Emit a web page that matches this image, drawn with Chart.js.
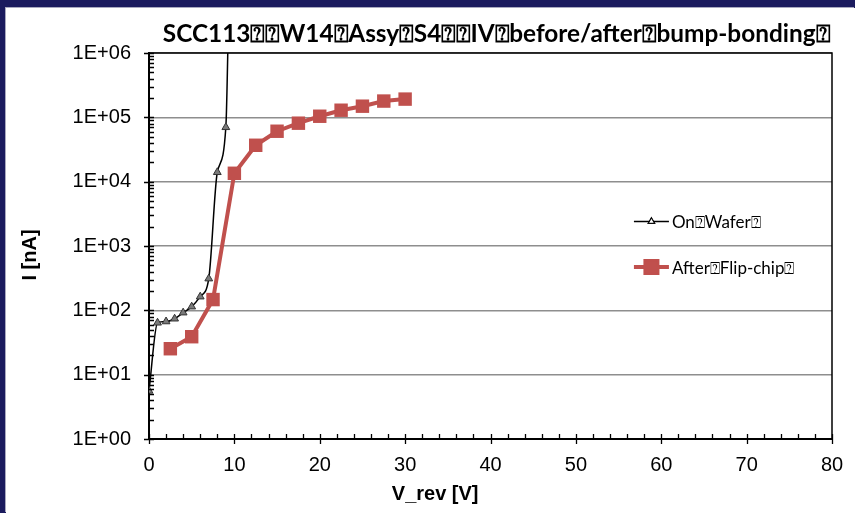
<!DOCTYPE html>
<html>
<head>
<meta charset="utf-8">
<title>SCC113 IV before/after bump-bonding</title>
<script src="https://cdn.jsdelivr.net/npm/chart.js@4.4.1/dist/chart.umd.min.js"></script>
<style>
  html, body { margin: 0; padding: 0; width: 855px; height: 513px; overflow: hidden; background: #1b1b5e; }
  #sheet { position: absolute; left: 6px; top: 8px; width: 849px; height: 505px; background: #ffffff;
           box-shadow: -1px -1px 0 #a9a9bf; }
  canvas { display: block; }
</style>
</head>
<body>
<div id="sheet"><canvas id="iv" width="849" height="505"></canvas></div>
<script>
// Reverse bias voltage [V] and leakage current [nA]
const onWaferV   = [0, 1, 2, 3, 4, 5, 6, 7, 8, 9, 9.5];
const onWaferI   = [5.6, 64, 67, 74, 92, 114, 163, 311, 14000, 70000, 1e8];
const flipChipV  = [2.5, 5, 7.5, 10, 12.5, 15, 17.5, 20, 22.5, 25, 27.5, 30];
const flipChipI  = [25.3, 38.9, 147, 13500, 36800, 60800, 81100, 104000, 129000, 149000, 179000, 192000];

const seriesNames = ['On\u2370Wafer\u2370', 'After\u2370Flip-chip\u2370'];
const chartTitle  = 'SCC113\u2370\u2370W14\u2370Assy\u2370S4\u2370\u2370IV\u2370before/after\u2370bump-bonding\u2370';
const xTitle = 'V_rev [V]';
const yTitle = 'I [nA]';
const xMin = 0, xMax = 80, xMajor = 10, xMinor = 2;
const yMin = 1, yMax = 1e6;

const RED = '#c0504d';

function toPoints(xs, ys) { return xs.map((v, i) => ({ x: v, y: ys[i] })); }
function isDecade(v) { const e = Math.log10(v); return Math.abs(e - Math.round(e)) < 1e-9; }

// Title, axis titles, minor/major tick marks, plot frame and legend
const decorations = {
  id: 'decorations',
  afterDraw(chart) {
    const { ctx, chartArea: a, scales: { x, y } } = chart;
    ctx.save();

    // plot frame (top and right)
    ctx.strokeStyle = '#000';
    ctx.lineWidth = 1.5;
    ctx.beginPath();
    ctx.moveTo(a.left, a.top);
    ctx.lineTo(a.right, a.top);
    ctx.lineTo(a.right, a.bottom);
    ctx.stroke();

    // x tick marks: major cross the axis, minor point inward
    ctx.lineWidth = 1.3;
    ctx.beginPath();
    for (let v = xMin; v <= xMax + 1e-9; v += xMinor) {
      const px = Math.round(x.getPixelForValue(v)) + 0.5;
      const major = Math.abs(v % xMajor) < 1e-9;
      ctx.moveTo(px, a.bottom + (major ? 5 : 0));
      ctx.lineTo(px, a.bottom - 5);
    }
    // y tick marks on the log scale
    for (let d = 0; d <= 6; d++) {
      for (let k = 1; k <= 9; k++) {
        const v = k * Math.pow(10, d);
        if (v > yMax) break;
        const py = Math.round(y.getPixelForValue(v)) + 0.5;
        ctx.moveTo(a.left - (k === 1 ? 5 : 0), py);
        ctx.lineTo(a.left + 5, py);
      }
    }
    ctx.stroke();

    // chart title
    const cx = (a.left + a.right) / 2;
    ctx.fillStyle = '#000';
    ctx.textAlign = 'center';
    ctx.textBaseline = 'alphabetic';
    ctx.font = 'bold 25px Lato';
    const tw = ctx.measureText(chartTitle).width;
    const target = (a.right - a.left) * 0.977;
    ctx.save();
    ctx.translate(cx + 6, a.top - 11);
    ctx.scale(target / tw, 1);
    ctx.fillText(chartTitle, 0, 0);
    ctx.restore();

    // axis titles
    ctx.font = 'bold 20px "Liberation Sans"';
    ctx.textBaseline = 'middle';
    ctx.fillText(xTitle, a.left + (a.right - a.left) * 0.419, a.bottom + 55);
    ctx.save();
    ctx.translate(24, (a.top + a.bottom) / 2 + 9);
    ctx.rotate(-Math.PI / 2);
    ctx.fillText(yTitle, 0, 0);
    ctx.restore();

    // legend inside plot area
    const lx = x.getPixelForValue(56.8);
    const rows = [
      { label: seriesNames[0], color: '#000', width: 1.5, style: 'triangle', r: 3.5, fill: '#fff', y: y.getPixelForValue(2400) },
      { label: seriesNames[1], color: RED, width: 4, style: 'rect', r: 8.5, fill: RED, y: y.getPixelForValue(470) }
    ];
    ctx.font = '17px Lato';
    ctx.textAlign = 'left';
    rows.forEach(row => {
      ctx.strokeStyle = row.color;
      ctx.lineWidth = row.width;
      ctx.beginPath();
      ctx.moveTo(lx, row.y);
      ctx.lineTo(lx + 35, row.y);
      ctx.stroke();
      Chart.helpers.drawPoint(ctx, { pointStyle: row.style, radius: row.r, borderWidth: 1, rotation: 0 }, lx + 17.5, row.y);
      ctx.fillStyle = row.fill;
      ctx.strokeStyle = row.color;
      ctx.lineWidth = 1;
      ctx.fill();
      ctx.stroke();
      ctx.fillStyle = '#000';
      ctx.fillText(row.label, lx + 38, row.y + 1);
    });

    ctx.restore();
  }
};

new Chart(document.getElementById('iv'), {
  type: 'line',
  data: {
    datasets: [
      {
        label: seriesNames[0],
        data: toPoints(onWaferV, onWaferI),
        borderColor: '#000',
        borderWidth: 1.5,
        cubicInterpolationMode: 'monotone',
        pointStyle: 'triangle',
        pointRadius: 4.5,
        pointBackgroundColor: '#7a7a7a',
        pointBorderColor: '#333333',
        pointBorderWidth: 1
      },
      {
        label: seriesNames[1],
        data: toPoints(flipChipV, flipChipI),
        borderColor: RED,
        borderWidth: 4,
        tension: 0,
        pointStyle: 'rect',
        pointRadius: 9.5,
        pointBackgroundColor: RED,
        pointBorderColor: RED,
        pointBorderWidth: 0
      }
    ]
  },
  options: {
    responsive: false,
    animation: false,
    devicePixelRatio: 1,
    layout: { padding: { top: 45, right: 23, left: 0, bottom: 0 } },
    plugins: { legend: { display: false }, title: { display: false }, tooltip: { enabled: false } },
    scales: {
      x: {
        type: 'linear',
        min: xMin, max: xMax,
        ticks: { stepSize: xMajor, color: '#000', font: { family: '"Liberation Sans"', size: 20 }, padding: 6, maxRotation: 0 },
        grid: { color: 'transparent', drawTicks: true, tickLength: 8, tickColor: 'transparent' },
        border: { display: true, color: '#000', width: 2 },
        afterFit(s) { s.height = 74; }
      },
      y: {
        type: 'logarithmic',
        min: yMin, max: yMax,
        ticks: {
          autoSkip: false,
          color: '#000',
          font: { family: '"Liberation Sans"', size: 20 },
          padding: 10,
          callback(v) {
            if (!isDecade(v)) return '';
            const e = Math.round(Math.log10(v));
            return '1E+' + String(e).padStart(2, '0');
          }
        },
        grid: {
          color: c => (c.tick && isDecade(c.tick.value) ? '#8e8e8e' : 'transparent'),
          lineWidth: 1.5,
          drawTicks: true, tickLength: 8, tickColor: 'transparent'
        },
        border: { display: true, color: '#000', width: 2 },
        afterFit(s) { s.width = 143; }
      }
    }
  },
  plugins: [decorations]
});
</script>
</body>
</html>
